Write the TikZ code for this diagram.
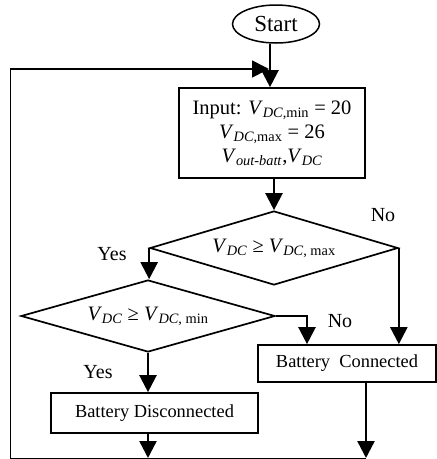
\documentclass[tikz,border=0pt]{standalone}
\usepackage{fontspec}
\setmainfont{Liberation Serif}
\usetikzlibrary{shapes.geometric,arrows.meta}
\newcommand\Vs[1]{\textit{V}\textsubscript{#1}}
\begin{document}
\begin{tikzpicture}[x=1pt,y=-1pt,
  arr/.style={line width=2.4pt,-{Triangle[length=17pt,width=17pt]}},
  boxst/.style={draw,line width=1.7pt,rectangle,inner sep=0pt,align=center},
  dia/.style={draw,line width=1.7pt,diamond,inner sep=0pt,aspect=3.4},
  lbl/.style={inner sep=0pt,font=\fontsize{20}{24}\selectfont}]
\useasboundingbox (0,0) rectangle (437,459);
\node[draw,line width=1.5pt,ellipse,minimum width=87pt,minimum height=38pt,inner sep=0pt,font=\fontsize{23}{27}\selectfont] (start) at (276,24) {Start};
\node[boxst,minimum width=186pt,minimum height=90pt,font=\fontsize{20.5}{24}\selectfont] (in) at (272,133)
  {Input: \Vs{\textit{DC},min} = 20\\ \Vs{\textit{DC},max} = 26\\ \Vs{\textit{out-batt}},\Vs{\textit{DC}}};
\node[dia,minimum width=248pt,minimum height=74pt,font=\fontsize{20.5}{24}\selectfont] (d1) at (274,248)
  {\Vs{\textit{DC}} ≥ \Vs{\textit{DC}, max}};
\node[dia,minimum width=254pt,minimum height=72pt,font=\fontsize{20.5}{24}\selectfont] (d2) at (148,316)
  {\Vs{\textit{DC}} ≥ \Vs{\textit{DC}, min}};
\node[boxst,minimum width=178pt,minimum height=37pt,font=\fontsize{18.4}{22}\selectfont] (bc) at (347,363.5) {Battery~ Connected};
\node[boxst,minimum width=207pt,minimum height=40pt,font=\fontsize{18.4}{22}\selectfont] (bd) at (154.5,413) {Battery Disconnected};
\coordinate (j1) at (270,69);
\coordinate (j0) at (269,69);
\coordinate (tl) at (10,69);
\coordinate (bl) at (10,458);
\coordinate (b1) at (148,458);
\coordinate (b2) at (366,458);
\coordinate (n2) at (307,316);
% connectors
\draw[arr] (start.south -| j1) -- (in.north -| j1);
\draw[arr] (in.south -| d1.north) -- (d1.north);
\draw[arr] (d1.west) -- (d1.west |- d2.north);
\draw[arr] (d1.east) -- (d1.east |- bc.north);
\draw[arr] (d2.east) -- (n2) -- (n2 |- bc.north);
\draw[arr] (d2.south) -- (d2.south |- bd.north);
\draw[arr] (bd.south -| b1) -- (b1);
\draw[arr] (bc.south -| b2) -- (b2);
\draw[line width=1pt] (b2) -- (bl) -- (tl);
\draw[arr,line width=1.7pt] (tl) -- (j0);
% labels
\node[lbl] (no1) at (383,215) {No};
\node[lbl] (yes1) at (112,254) {Yes};
\node[lbl] (no2) at (340,321) {No};
\node[lbl] (yes2) at (98,372) {Yes};
\end{tikzpicture}
\end{document}
